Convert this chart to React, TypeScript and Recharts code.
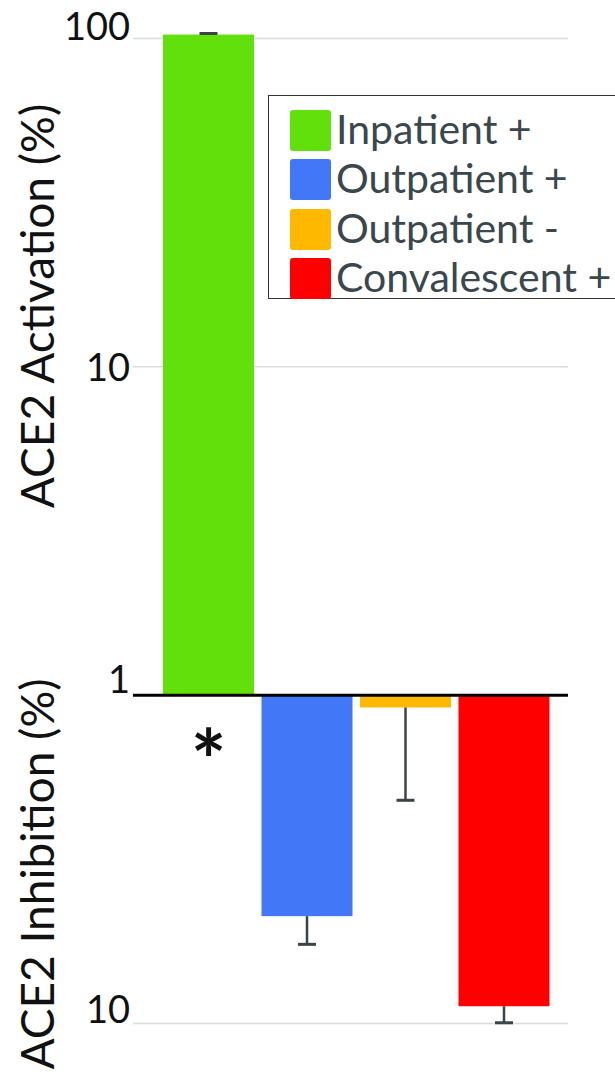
import React from 'react';
import { BarChart, Bar, XAxis, YAxis, CartesianGrid, ReferenceLine, Legend, Label } from 'recharts';

// ---- data ----
const categories = ['Inpatient +', 'Outpatient +', 'Outpatient -', 'Convalescent +'];
const direction = [1, -1, -1, -1]; // +1 = activation (up), -1 = inhibition (down)
const percentValues = [102.8, 4.71, 1.09, 8.86];
const percentErrors = [0.8, 1.03, 1.0, 1.09];
const colors = ['#62e00b', '#4277f7', '#ffb800', '#ff0000'];
const notes = ['*', '', '', ''];
const tickValues = [2, 1, 0, -1];
const tickLabels = ['100', '10', '1', '10'];

const data = categories.map((c, i) => ({
  cat: c,
  plot: direction[i] * Math.log10(percentValues[i]),
  errEnd: direction[i] * Math.log10(percentValues[i] + percentErrors[i]),
  color: colors[i],
  note: notes[i],
}));

const FONT = 'Lato, "Open Sans", sans-serif';

const BarWithError = (props: any) => {
  const { x, y, width, height, payload } = props;
  const top = Math.min(y, y + height);
  const h = Math.abs(height);
  const bottom = top + h;
  const pxPerUnit = h / Math.abs(payload.plot);
  const errPx = Math.abs(payload.errEnd - payload.plot) * pxPerUnit;
  const cx = x + width / 2;
  const up = payload.plot >= 0;
  const start = up ? top : bottom;
  const end = up ? top - errPx : bottom + errPx;
  return (
    <g>
      <rect x={x} y={top} width={width} height={h} fill={payload.color} />
      <line x1={cx} y1={start} x2={cx} y2={end} stroke="#3a4448" strokeWidth={2.5} />
      <line x1={cx - 9} y1={end} x2={cx + 9} y2={end} stroke="#3a4448" strokeWidth={3} />
      {payload.note ? (
        <text x={cx} y={bottom + 96} textAnchor="middle" fontSize={84} fontWeight="bold" fontFamily={FONT} fill="#111">
          {payload.note}
        </text>
      ) : null}
    </g>
  );
};

const YTick = (props: any) => {
  const { x, y, payload } = props;
  const i = tickValues.indexOf(payload.value);
  const baselineShift = [1.5, 14.5, -2.5, -0.5][i] ?? 0;
  return (
    <text x={x} y={y + baselineShift} textAnchor="end" fontSize={38} fontFamily={FONT} fill="#111">
      {tickLabels[i]}
    </text>
  );
};

const Titles = () => (
  <g fontFamily={FONT} fontSize={46} fill="#111">
    <text transform="translate(54, 306) rotate(-90)" textAnchor="middle">ACE2 Activation (%)</text>
    <text transform="translate(54, 874) rotate(-90)" textAnchor="middle">ACE2 Inhibition (%)</text>
  </g>
);

const LegendBox = () => (
  <div
    style={{
      border: '1.5px solid #333',
      background: '#fff',
      width: 380,
      height: 204,
      boxSizing: 'border-box',
      padding: '9.5px 0 0 21px',
      fontFamily: FONT,
    }}
  >
    {categories.map((c, i) => (
      <div key={c} style={{ display: 'flex', alignItems: 'center', height: 49.5 }}>
        <div style={{ width: 41, height: 41, background: colors[i], borderRadius: 3, flex: 'none' }} />
        <span
          style={{
            marginLeft: 5,
            fontSize: 41,
            color: '#3a474c',
            lineHeight: 1,
            whiteSpace: 'nowrap',
            position: 'relative',
            top: -2,
          }}
        >
          {c}
        </span>
      </div>
    ))}
  </div>
);

export default function App() {
  return (
    <div style={{ position: 'absolute', top: 0, left: 0, width: 615, height: 1076, overflow: 'hidden', background: '#fff' }}>
      <BarChart
        width={615}
        height={1076}
        data={data}
        margin={{ top: 0, right: 47, bottom: 0, left: 0 }}
      >
        <CartesianGrid vertical={false} horizontalValues={[2, 1, -1]} stroke="#d6dddd" strokeWidth={1.5} />
        <XAxis dataKey="cat" hide padding={{ left: 26, right: 15 }} />
        <YAxis
          type="number"
          domain={[-1.1599, 2.1173]}
          ticks={tickValues}
          allowDataOverflow
          width={133}
          axisLine={false}
          tickLine={false}
          tickSize={0}
          tickMargin={3}
          tick={<YTick />}
        >
          <Label content={<Titles />} />
        </YAxis>
        <Bar dataKey="plot" barSize={91} isAnimationActive={false} shape={<BarWithError />} />
        <ReferenceLine y={0} stroke="#000" strokeWidth={3} />
        <Legend
          layout="vertical"
          align="center"
          verticalAlign="middle"
          content={<LegendBox />}
          wrapperStyle={{ position: 'absolute', top: 95, left: 268, width: 380 }}
        />
      </BarChart>
    </div>
  );
}
